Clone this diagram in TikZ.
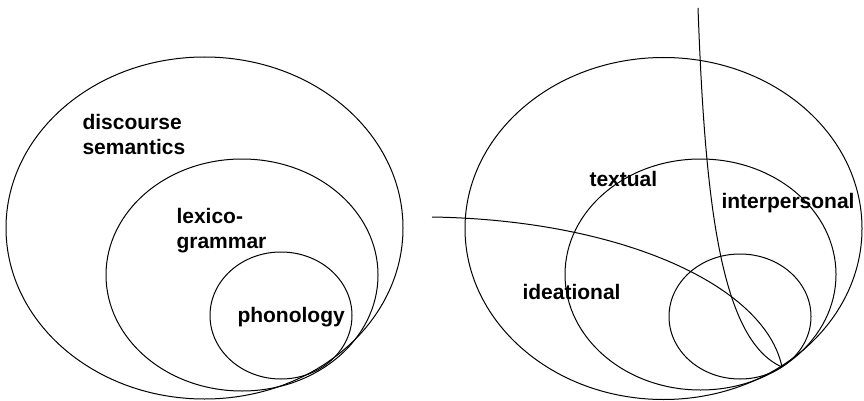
\documentclass[tikz,border=0pt]{standalone}
\usepackage{fontspec}
\newfontfamily\lblfont{Liberation Sans}
\begin{document}
\begin{tikzpicture}[x=1pt,y=-1pt,line width=1pt,
  lbl/.style={font=\lblfont\bfseries\fontsize{21}{25}\selectfont,inner sep=0pt,anchor=base west,align=left}]
\useasboundingbox (0,0) rectangle (864,401);

% strata: three nested ellipses touching at the lower right
\begin{scope}
  \draw (204.5,228) ellipse [x radius=198.5, y radius=171];
  \draw (242,275) ellipse [x radius=136, y radius=116];
  \draw (281,315.5) ellipse [x radius=71, y radius=63.5];
\end{scope}
% two-line labels: the base anchor sits on the last line
\node[lbl] (ds) at (82,154) {discourse\\semantics};
\node[lbl] (lg) at (176,248) {lexico-\\grammar};
\node[lbl] (ph) at (237,322) {phonology};

% metafunctions: the same nest, cut by two curves
\begin{scope}[xshift=459pt]
  \draw (204.5,228.5) ellipse [x radius=198.5, y radius=171];
  \draw (241.5,274.5) ellipse [x radius=135.5, y radius=115.5];
  \draw (281,316.5) ellipse [x radius=71, y radius=62.5];
\end{scope}
\coordinate (tp) at (782,367);
\coordinate (w) at (432,217);
\coordinate (n) at (698,8);
\draw (w) .. controls (620,220) and (765,285) .. (tp);
\draw (n) .. controls (705,200) and (720,340) .. (tp);
\node[lbl] (tx) at (589,186) {textual};
\node[lbl] (ip) at (721,208) {interpersonal};
\node[lbl] (id) at (522,299) {ideational};
\end{tikzpicture}
\end{document}
